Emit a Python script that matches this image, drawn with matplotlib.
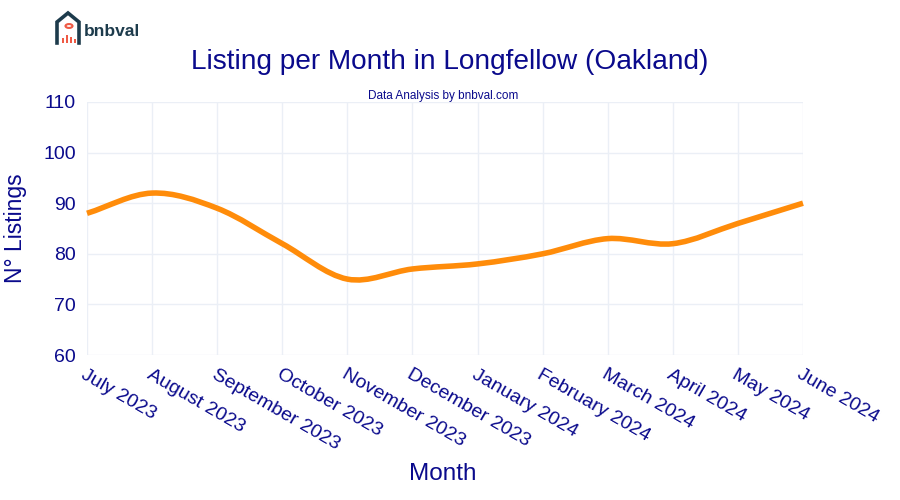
import numpy as np
import matplotlib
matplotlib.use("Agg")
import matplotlib.pyplot as plt
from matplotlib.path import Path
from matplotlib.patches import PathPatch, Rectangle, Circle
from matplotlib.lines import Line2D

plt.rcParams['font.family'] = ['Liberation Sans', 'DejaVu Sans']

months = ["July 2023", "August 2023", "September 2023", "October 2023", "November 2023",
          "December 2023", "January 2024", "February 2024", "March 2024", "April 2024",
          "May 2024", "June 2024"]
listings = [88, 92, 89, 82, 75, 77, 78, 80, 83, 82, 86, 90]
y_ticks = [60, 70, 80, 90, 100, 110]

NAVY = "#0a0a8c"
LINE = "#ff8c0a"
GRID = "#ebeff6"

fig = plt.figure(figsize=(9, 5), dpi=100)
ax = fig.add_axes([87/900, 1-355/500, (803-87)/900, (355-102)/500])

x = np.arange(len(listings), dtype=float)
y = np.array(listings, dtype=float)

# Cardinal (Catmull-Rom style) spline through the points, in data space
n = len(x)
verts = [(x[0], y[0])]
codes = [Path.MOVETO]
def tangent(i):
    if i == 0:
        return (x[1]-x[0]), (y[1]-y[0])
    if i == n-1:
        return (x[-1]-x[-2]), (y[-1]-y[-2])
    return (x[i+1]-x[i-1])/2, (y[i+1]-y[i-1])/2
for i in range(n-1):
    tx0, ty0 = tangent(i)
    tx1, ty1 = tangent(i+1)
    c1 = (x[i] + tx0/3, y[i] + ty0/3)
    c2 = (x[i+1] - tx1/3, y[i+1] - ty1/3)
    verts += [c1, c2, (x[i+1], y[i+1])]
    codes += [Path.CURVE4]*3
path = Path(verts, codes)
ax.add_patch(PathPatch(path, facecolor='none', edgecolor=LINE, lw=4, capstyle='butt',
                       zorder=3, clip_on=False))

ax.set_xlim(0, n-1)
ax.set_ylim(60, 110)
ax.set_yticks(y_ticks)
ax.set_xticks(x)
ax.set_xticklabels(months, rotation=-30, ha='left', va='top', rotation_mode='anchor',
                   fontsize=14, color=NAVY)
ax.tick_params(axis='y', labelsize=14, labelcolor=NAVY, length=0, pad=8)
ax.tick_params(axis='x', length=0, pad=8)
for s in ax.spines.values():
    s.set_visible(False)
ax.grid(True, color=GRID, lw=1)
ax.set_axisbelow(True)

ax.set_ylabel("N° Listings", fontsize=16.5, color=NAVY, labelpad=12)
fig.text(443/900, 1-474/500, "Month", fontsize=17.5, color=NAVY, ha='center', va='center')

fig.text(450/900, 1-62/500, "Listing per Month in Longfellow (Oakland)", fontsize=20.2,
         color=NAVY, ha='center', va='center')
fig.text(443/900, 1-96/500, "Data Analysis by bnbval.com", fontsize=8.5, color=NAVY,
         ha='center', va='center')

# Logo
def fx(px): return px/900
def fy(py): return 1-py/500
DARK = "#1d3b4c"
RED = "#ef5a45"
house = [(57, 43), (57, 22), (68, 13), (79, 22), (79, 43)]
fig.add_artist(Line2D([fx(p[0]) for p in house], [fy(p[1]) for p in house],
                      color=DARK, lw=2.6, solid_joinstyle='miter'))
for bx, bh in [(62, 5), (66, 8), (70, 6), (74, 4)]:
    fig.add_artist(Rectangle((fx(bx), fy(43)), 2.2/900, bh/500, color=RED, lw=0))
fig.add_artist(Circle((fx(69), fy(26)), 3.5/900, transform=fig.transFigure,
                      fill=False, ec=RED, lw=1.5))
fig.text(fx(84), fy(31), "bnbval", fontsize=12.5, fontweight='bold', color=DARK,
         ha='left', va='center')

fig.savefig("out.png", dpi=100, facecolor='white')
